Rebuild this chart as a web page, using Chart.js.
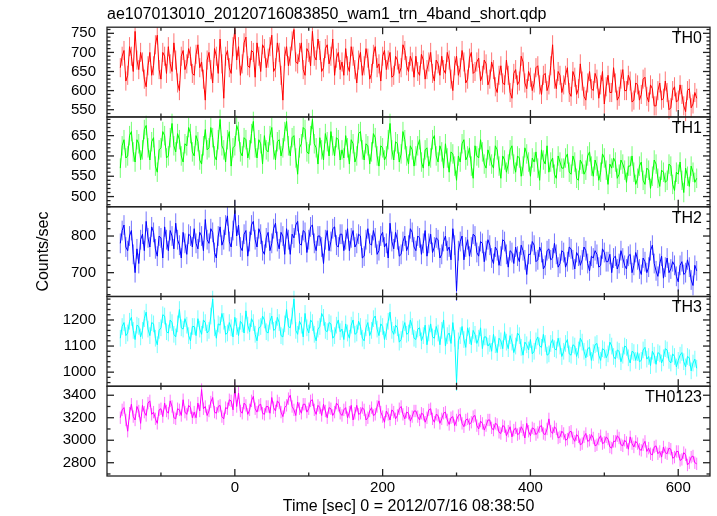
<!DOCTYPE html>
<html lang="en">
<head>
  <meta charset="UTF-8" />
  <title>wam1 trn 4band light curve</title>
  <script src="https://cdn.jsdelivr.net/npm/chart.js@4.4.1/dist/chart.umd.min.js"></script>
  <style>
    html, body {margin: 0; padding: 0; background: #fff;}
    #lc {display: block;}
  </style>
</head>
<body>
  <canvas id="lc" width="717" height="516"></canvas>

  <script>
    // time bins (sec from 2012/07/16 08:38:50)
    const t0 = -155;
    const dt = 2.5;

    // counts/sec, one value per 2.5 s bin (one row = 100 s)
    const th0 = [
      660,690, 705,625, 640,715, 690,650, 755,680, 655,700, 675,630, 610,665, 700,640, 665,720, 745,655, 630,700, 690,645, 715,670, 650,725, 680,620, 600,690, 705,655, 670,710, 690,645,
      640,695, 720,660, 675,630, 575,680, 700,655, 620,710, 690,645, 735,670, 580,690, 705,660, 645,715, 760,680, 715,640, 670,725, 740,665, 660,705, 700,635, 725,690, 650,720, 710,660,
      685,715, 745,650, 660,725, 700,640, 575,690, 715,665, 690,730, 760,675, 670,700, 725,655, 640,710, 700,665, 755,690, 680,735, 705,650, 660,710, 720,670, 690,735, 640,685, 700,655,
      675,640, 710,665, 650,715, 690,655, 620,680, 700,640, 665,710, 685,630, 645,695, 715,660, 670,625, 690,705, 655,680, 700,635, 640,690, 680,645, 660,720, 705,665, 650,690, 675,635,
      690,650, 640,695, 680,630, 655,675, 700,645, 625,680, 670,640, 690,655, 645,700, 680,630, 600,665, 690,640, 660,705, 675,620, 630,685, 700,645, 650,675, 685,625, 640,680, 670,615,
      630,675, 655,610, 595,640, 665,620, 615,680, 640,595, 580,645, 655,615, 625,690, 675,620, 605,650, 635,600, 620,660, 665,615, 590,640, 645,600, 615,665, 720,630, 605,650, 640,595,
      615,640, 660,595, 585,650, 635,590, 605,670, 625,585, 575,620, 650,605, 600,645, 630,580, 615,650, 565,610, 640,595, 595,660, 620,575, 585,630, 655,600, 600,640, 625,570, 575,620,
      615,575, 590,630, 635,585, 570,615, 605,560, 560,600, 620,575, 580,625, 595,550, 555,600, 610,570, 575,615, 590,560, 545,600, 605,555, 565,595, 580
    ];
    const th1 = [
      570,625, 640,595, 600,650, 660,610, 585,640, 630,590, 615,665, 675,620, 590,635, 645,575, 560,615, 620,660, 650,595, 600,645, 680,625, 610,655, 640,600, 585,630, 625,670, 655,610,
      600,650, 635,590, 580,625, 665,615, 620,670, 645,600, 590,640, 690,625, 615,585, 640,660, 575,620, 625,675, 660,610, 600,645, 640,595, 615,655, 685,620, 595,640, 630,580, 650,615,
      610,650, 670,615, 590,635, 640,600, 620,660, 685,625, 600,645, 650,595, 555,620, 630,670, 665,610, 605,650, 690,630, 620,580, 645,615, 590,655, 635,600, 660,625, 600,645, 640,590,
      615,595, 650,620, 580,640, 630,585, 600,655, 660,615, 590,630, 625,580, 610,655, 645,600, 575,625, 620,590, 600,640, 680,615, 590,635, 630,585, 605,660, 640,600, 580,625, 615,575,
      600,625, 640,585, 570,615, 620,575, 595,640, 650,600, 585,625, 610,570, 630,595, 560,610, 605,575, 540,600, 585,630, 640,590, 600,620, 575,545, 625,600, 595,640, 610,580, 570,615,
      600,580, 570,625, 615,575, 545,600, 590,560, 580,615, 625,580, 560,600, 595,550, 575,620, 605,585, 550,595, 585,610, 570,540, 615,590, 580,625, 560,585, 595,555, 545,600, 585,570,
      570,595, 605,560, 555,600, 585,545, 540,590, 580,555, 565,600, 610,575, 550,590, 575,540, 560,605, 595,565, 530,580, 570,595, 585,545, 555,590, 580,565, 535,575, 575,600, 560,530,
      545,575, 585,540, 530,570, 565,520, 550,590, 580,545, 525,565, 560,535, 540,580, 575,530, 515,560, 555,585, 540,510, 570,550, 525,575, 560,535, 545
    ];
    const th2 = [
      780,815, 830,770, 760,800, 815,750, 700,765, 725,790, 805,760, 840,795, 770,825, 810,765, 745,800, 795,740, 825,790, 760,815, 800,765, 835,790, 775,740, 810,780, 750,805, 800,770,
      820,780, 765,810, 800,760, 845,790, 780,820, 810,755, 740,800, 825,775, 790,830, 855,785, 770,815, 870,800, 830,770, 760,805, 815,745, 785,830, 840,790, 770,820, 805,760, 750,795,
      810,760, 780,820, 835,785, 765,810, 800,750, 820,790, 750,805, 795,830, 840,780, 775,815, 810,755, 790,825, 830,780, 760,800, 800,770, 725,790, 815,760, 785,820, 825,775, 770,805,
      805,760, 790,820, 760,795, 815,770, 780,805, 800,740, 745,790, 820,780, 775,815, 795,750, 760,800, 810,770, 780,740, 835,785, 765,810, 790,745, 750,785, 800,760, 775,820, 810,770,
      760,800, 795,750, 780,815, 745,780, 805,755, 770,795, 790,740, 750,785, 800,760, 770,735, 820,775, 650,760, 785,800, 735,770, 790,745, 770,805, 800,755, 745,785, 780,730, 760,790,
      775,740, 725,770, 760,720, 745,790, 785,750, 715,760, 755,725, 770,745, 730,775, 760,735, 695,750, 750,785, 775,730, 735,770, 755,710, 720,760, 765,735, 740,780, 750,715, 725,760,
      755,715, 730,770, 765,735, 710,755, 745,720, 735,770, 760,725, 705,745, 740,760, 750,715, 720,765, 755,730, 730,750, 700,740, 745,710, 725,760, 740,720, 710,745, 750,700, 720,755,
      735,710, 695,740, 730,700, 715,760, 775,725, 705,690, 725,745, 685,715, 740,700, 710,730, 720,690, 675,720, 730,695, 700,735, 715,680, 665,720, 705
    ];
    const th3 = [
      1130,1175, 1190,1140, 1150,1195, 1210,1160, 1125,1180, 1175,1135, 1160,1205, 1230,1165, 1140,1190, 1185,1130, 1105,1160, 1170,1220, 1215,1155, 1150,1200, 1190,1145, 1135,1185, 1240,1170, 1165,1205, 1180,1140, 1120,1175,
      1175,1140, 1205,1165, 1145,1200, 1190,1150, 1160,1215, 1280,1170, 1130,1185, 1180,1225, 1195,1145, 1150,1190, 1170,1135, 1210,1175, 1140,1195, 1185,1150, 1235,1180, 1155,1205, 1190,1145, 1120,1170, 1175,1215, 1200,1155,
      1150,1195, 1215,1160, 1165,1210, 1190,1140, 1135,1185, 1240,1175, 1170,1215, 1280,1160, 1145,1195, 1180,1135, 1225,1170, 1150,1200, 1190,1145, 1120,1165, 1175,1225, 1210,1160, 1155,1190, 1185,1130, 1140,1180, 1200,1155,
      1165,1125, 1185,1150, 1130,1180, 1200,1145, 1150,1195, 1175,1130, 1120,1170, 1190,1140, 1160,1205, 1215,1165, 1140,1185, 1175,1125, 1155,1195, 1230,1160, 1145,1180, 1170,1115, 1125,1165, 1190,1145, 1150,1200, 1175,1130,
      1125,1165, 1170,1120, 1140,1180, 1105,1150, 1185,1135, 1130,1175, 1150,1105, 1160,1200, 1100,1140, 1150,1110, 1190,1130, 960,1120, 1140,1175, 1125,1095, 1170,1140, 1105,1160, 1145,1110, 1130,1170, 1090,1135, 1135,1100,
      1110,1080, 1145,1105, 1075,1130, 1120,1090, 1155,1115, 1090,1140, 1115,1075, 1100,1150, 1140,1095, 1065,1115, 1105,1085, 1125,1070, 1080,1120, 1135,1100, 1095,1145, 1110,1065, 1070,1110, 1125,1090, 1085,1130, 1100,1060,
      1080,1110, 1125,1070, 1065,1105, 1100,1060, 1085,1130, 1115,1080, 1055,1090, 1095,1045, 1075,1105, 1110,1065, 1045,1090, 1085,1055, 1070,1115, 1100,1060, 1050,1085, 1080,1040, 1065,1100, 1095,1055, 1035,1080, 1075,1045,
      1075,1040, 1045,1085, 1095,1050, 1060,1025, 1080,1065, 1030,1075, 1070,1035, 1055,1090, 1085,1045, 1035,1070, 1060,1020, 1045,1065, 1075,1040, 1020,1060, 1055,1005, 1035,1050, 1015
    ];
    const th0123 = [
      3200,3270, 3290,3180, 3080,3240, 3320,3210, 3180,3300, 3260,3150, 3310,3250, 3220,3330, 3350,3230, 3250,3190, 3150,3270, 3280,3210, 3330,3260, 3240,3350, 3300,3200, 3190,3280, 3270,3220, 3360,3250, 3230,3310, 3290,3200,
      3250,3200, 3330,3260, 3450,3280, 3300,3220, 3260,3340, 3380,3250, 3240,3300, 3310,3210, 3190,3290, 3280,3360, 3350,3270, 3460,3300, 3420,3260, 3240,3330, 3310,3230, 3270,3350, 3390,3280, 3250,3310, 3320,3240, 3230,3300,
      3300,3240, 3380,3290, 3260,3350, 3330,3250, 3210,3290, 3310,3370, 3400,3300, 3270,3220, 3340,3280, 3240,3320, 3320,3250, 3280,3350, 3360,3270, 3230,3310, 3290,3220, 3320,3260, 3200,3290, 3280,3220, 3250,3330, 3310,3240,
      3220,3270, 3290,3200, 3250,3310, 3180,3240, 3310,3230, 3240,3290, 3270,3180, 3200,3260, 3290,3220, 3230,3300, 3350,3250, 3210,3160, 3260,3230, 3180,3270, 3250,3190, 3220,3280, 3300,3230, 3190,3250, 3240,3170, 3210,3260,
      3260,3210, 3180,3240, 3230,3160, 3200,3270, 3280,3190, 3160,3230, 3220,3150, 3190,3240, 3250,3180, 3140,3200, 3210,3130, 3180,3220, 3230,3150, 3120,3180, 3190,3140, 3160,3210, 3220,3130, 3100,3170, 3150,3090, 3130,3180,
      3180,3110, 3090,3150, 3140,3070, 3060,3130, 3120,3040, 3080,3120, 3030,3090, 3110,3050, 3060,3120, 3090,3020, 3150,3080, 3040,3110, 3100,3050, 3070,3120, 3130,3060, 3050,3100, 3190,3080, 3060,3120, 3100,3020, 3030,3080,
      3060,3000, 3010,3070, 3080,3020, 2990,3050, 3030,2960, 2970,3030, 3060,2990, 3000,3050, 3020,2950, 2960,3010, 3040,2970, 2980,3030, 3010,2940, 2930,2990, 2990,3040, 3020,2960, 2950,3000, 2980,2920, 3030,2970, 2940,2990,
      2970,2920, 2910,2960, 2990,2900, 2930,2880, 2870,2940, 2950,2880, 2900,2850, 2940,2890, 2880,2930, 2920,2840, 2850,2900, 2900,2820, 2830,2890, 2870,2780, 2800,2850, 2860,2800, 2790
    ];

    // 1-sigma error on each band (counts/sec)
    const th0Err = 25;
    const th1Err = 24;
    const th2Err = 27;
    const th3Err = 32;
    const th0123Err = 55;

    // tick labels
    const xTicks = [0, 200, 400, 600];
    const th0Ticks = [550, 600, 650, 700, 750];
    const th1Ticks = [500, 550, 600, 650];
    const th2Ticks = [700, 800];
    const th3Ticks = [1000, 1100, 1200];
    const th0123Ticks = [2800, 3000, 3200, 3400];

    const FONT = "'Liberation Sans', Arial, Helvetica, sans-serif";

    // top panel first
    const panels = [
      {id: 'y0', label: 'TH0',    data: th0,    err: th0Err,    ticks: th0Ticks,    minor: 10,  min: 531,  max: 766,  color: '255,0,0'},
      {id: 'y1', label: 'TH1',    data: th1,    err: th1Err,    ticks: th1Ticks,    minor: 10,  min: 475,  max: 696,  color: '0,255,0'},
      {id: 'y2', label: 'TH2',    data: th2,    err: th2Err,    ticks: th2Ticks,    minor: 20,  min: 635,  max: 880,  color: '0,0,255'},
      {id: 'y3', label: 'TH3',    data: th3,    err: th3Err,    ticks: th3Ticks,    minor: 20,  min: 946,  max: 1290, color: '0,255,255'},
      {id: 'y4', label: 'TH0123', data: th0123, err: th0123Err, ticks: th0123Ticks, minor: 100, min: 2682, max: 3480, color: '255,0,255'}
    ];

    function toPoints(vals) {
      return vals.map((v, i) => ({x: t0 + i * dt, y: v}));
    }

    const scales = {
      x: {
        type: 'linear',
        min: -173,
        max: 643,
        grid: {display: false, drawTicks: false},
        border: {display: false},
        afterBuildTicks: s => { s.ticks = xTicks.map(v => ({value: v})); },
        afterFit: s => { s.height = 40; },
        ticks: {color: '#000', padding: 3, autoSkip: false, maxRotation: 0,
                callback: v => String(v), font: {family: FONT, size: 15}},
        title: {
          display: true,
          text: 'Time [sec] 0 = 2012/07/16 08:38:50',
          color: '#000',
          padding: {top: 0, bottom: 0},
          font: {family: FONT, size: 16}
        }
      }
    };

    // layout stacks left boxes in reverse order, so add bottom panel first
    panels.slice().reverse().forEach(p => {
      scales[p.id] = {
        type: 'linear',
        position: 'left',
        stack: 'panels',
        stackWeight: 1,
        min: p.min,
        max: p.max,
        grid: {display: false, drawTicks: false},
        border: {display: false},
        afterBuildTicks: s => { s.ticks = p.ticks.map(v => ({value: v})); },
        afterFit: s => { s.width = 107; },
        ticks: {color: '#000', padding: 11, autoSkip: false,
                callback: v => String(v), font: {family: FONT, size: 15}},
        title: {
          display: p.id === 'y2',
          text: 'Counts/sec',
          color: '#000',
          padding: {top: 34, bottom: 0},
          font: {family: FONT, size: 16}
        }
      };
    });

    // light error bars under each light curve
    const errorPlugin = {
      id: 'errbars',
      beforeDatasetsDraw(chart) {
        const {ctx, chartArea: a} = chart;
        ctx.save();
        ctx.beginPath();
        ctx.rect(a.left, a.top, a.right - a.left, a.bottom - a.top);
        ctx.clip();
        ctx.lineWidth = 1;
        panels.forEach((p, di) => {
          const meta = chart.getDatasetMeta(di);
          const s = chart.scales[p.id];
          ctx.strokeStyle = 'rgba(' + p.color + ',0.55)';
          ctx.beginPath();
          meta.data.forEach((pt, i) => {
            const v = p.data[i];
            ctx.moveTo(pt.x, s.getPixelForValue(v + p.err));
            ctx.lineTo(pt.x, s.getPixelForValue(v - p.err));
          });
          ctx.stroke();
        });
        ctx.restore();
      }
    };

    // panel frames, inward ticks and band names
    const framePlugin = {
      id: 'frames',
      afterDatasetsDraw(chart) {
        const {ctx, chartArea: a} = chart;
        const xs = chart.scales.x;
        const line = (x1, y1, x2, y2) => {
          ctx.beginPath(); ctx.moveTo(x1, y1); ctx.lineTo(x2, y2); ctx.stroke();
        };
        ctx.save();
        ctx.strokeStyle = '#222';
        ctx.lineWidth = 1.3;
        ctx.fillStyle = '#000';
        ctx.font = '16px ' + FONT;
        ctx.textAlign = 'right';
        ctx.textBaseline = 'alphabetic';
        panels.forEach(p => {
          const s = chart.scales[p.id];
          const top = s.top, bot = s.bottom;
          ctx.strokeRect(a.left, top, a.right - a.left, bot - top);
          for (let v = Math.ceil(p.min / p.minor) * p.minor; v <= p.max; v += p.minor) {
            const y = s.getPixelForValue(v);
            const len = p.ticks.includes(v) ? 7 : 3.5;
            line(a.left, y, a.left + len, y);
            line(a.right - len, y, a.right, y);
          }
          for (let v = -100; v <= 600; v += 100) {
            const x = xs.getPixelForValue(v);
            const len = v % 200 === 0 ? 7 : 3.5;
            line(x, top, x, top + len);
            line(x, bot - len, x, bot);
          }
          ctx.fillText(p.label, a.right - 8, top + 16);
        });
        ctx.restore();
      }
    };

    new Chart(document.getElementById('lc').getContext('2d'), {
      type: 'line',
      data: {
        datasets: panels.map(p => ({
          label: p.label,
          data: toPoints(p.data),
          yAxisID: p.id,
          borderColor: 'rgb(' + p.color + ')',
          borderWidth: 1,
          pointRadius: 0,
          tension: 0,
          fill: false
        }))
      },
      options: {
        responsive: false,
        animation: false,
        events: [],
        layout: {padding: {left: 0, right: 7, top: 0, bottom: 0}},
        plugins: {
          legend: {display: false},
          tooltip: {enabled: false},
          title: {
            display: true,
            text: 'ae107013010_20120716083850_wam1_trn_4band_short.qdp',
            align: 'start',
            fullSize: false,
            color: '#000',
            padding: {top: 5, bottom: 3},
            font: {family: FONT, size: 16, weight: 'normal'}
          }
        },
        scales: scales
      },
      plugins: [errorPlugin, framePlugin]
    });
  </script>
</body>
</html>
